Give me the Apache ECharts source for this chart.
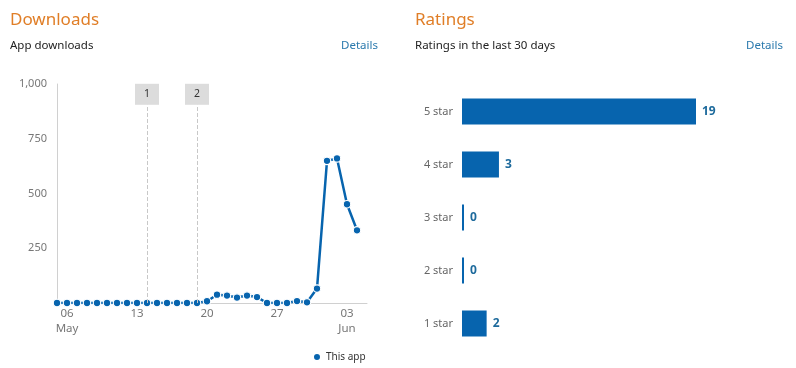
<!DOCTYPE html>
<html>
<head>
<meta charset="utf-8">
<script src="https://cdn.jsdelivr.net/npm/echarts@6/dist/echarts.min.js"></script>
<style>
html,body{margin:0;padding:0;background:#fff;}
#c{width:796px;height:368px;}
</style>
</head>
<body>
<div id="c"></div>
<script>
// Downloads (daily)
var days = ['May 5','May 6','May 7','May 8','May 9','May 10','May 11','May 12','May 13','May 14','May 15','May 16','May 17','May 18','May 19','May 20','May 21','May 22','May 23','May 24','May 25','May 26','May 27','May 28','May 29','May 30','May 31','Jun 1','Jun 2','Jun 3','Jun 4','Jun 5'];
var downloads = [0,0,0,0,0,0,0,0,0,0,0,0,0,0,0,8,38,34,25,34,27,0,0,0,9,3,66,649,660,451,332,null];
var tickDays = ['May 6','May 13','May 20','May 27','Jun 3'];
var tickLabels = ['06\nMay','13','20','27','03\nJun'];
var eventDates = ['May 14','May 19'];
var eventLabels = ['1','2'];
var yTicks = [0,250,500,750,1000];

// Ratings
var ratingCats = ['5 star','4 star','3 star','2 star','1 star'];
var ratingVals = [19,3,0,0,2];

var FONT = '"Noto Sans", "Open Sans", sans-serif';
var BLUE = '#0764ae';
var ORANGE = '#e07e27';
var LINK = '#2a79ad';

function t(text, left, top, size, color){
  return {text:text, left:left, top:top, padding:0,
    textStyle:{fontFamily:FONT, fontSize:size, fontWeight:'normal', color:color}};
}

var chart = echarts.init(document.getElementById('c'), null, {renderer:'canvas'});
chart.setOption({
  animation: false,
  textStyle: {fontFamily: FONT},
  title: [
    t('Downloads', 10, 12, 17, ORANGE),
    t('App downloads', 10, 40, 11.5, '#222'),
    t('Details', 341, 40, 11.5, LINK),
    t('Ratings', 415, 12, 17, ORANGE),
    t('Ratings in the last 30 days', 415, 40, 11.5, '#222'),
    t('Details', 746, 40, 11.5, LINK)
  ],
  legend: {
    data:['This app'], left:307, top:347, icon:'circle', itemWidth:8, itemHeight:8, itemGap:6,
    textStyle:{fontFamily:FONT, fontSize:10, color:'#333'}
  },
  grid: [
    {left:57, top:84, width:310, height:219, containLabel:false},
    {left:462, top:85, width:234, height:265, containLabel:false}
  ],
  xAxis: [
    {
      gridIndex:0, type:'category', data:days, boundaryGap:false,
      axisLine:{lineStyle:{color:'#d0d0d0'}}, axisTick:{show:false},
      axisLabel:{
        color:'#777', fontSize:11.5, lineHeight:15, margin:3,
        interval:function(i, v){ return tickDays.indexOf(v) >= 0; },
        formatter:function(v){ var k = tickDays.indexOf(v); return k >= 0 ? tickLabels[k] : ''; }
      },
      splitLine:{show:false}
    },
    {gridIndex:1, type:'value', min:0, max:19, show:false}
  ],
  yAxis: [
    {
      gridIndex:0, type:'value', min:yTicks[0], max:yTicks[yTicks.length-1], interval:250,
      axisLine:{show:true, lineStyle:{color:'#d0d0d0'}}, axisTick:{show:false}, splitLine:{show:false},
      axisLabel:{color:'#777', fontSize:11, margin:10, formatter:function(v){ return v === 0 ? '' : v.toLocaleString('en-US'); }}
    },
    {
      gridIndex:1, type:'category', data:ratingCats, inverse:true,
      axisLine:{show:false}, axisTick:{show:false},
      axisLabel:{color:'#666', fontSize:11, margin:9}
    }
  ],
  series: [
    {
      name:'This app', type:'line', xAxisIndex:0, yAxisIndex:0, data:downloads,
      symbol:'circle', symbolSize:7.5, showAllSymbol:true,
      lineStyle:{color:BLUE, width:2.5},
      itemStyle:{color:BLUE, borderColor:'#fff', borderWidth:1.2},
      markLine:{
        silent:true, symbol:['none','none'],
        lineStyle:{color:'#c8c8c8', type:'dashed', width:1},
        label:{show:true, position:'end', distance:0, formatter:'{b}', backgroundColor:'#dcdcdc', padding:[5,9,5,9], color:'#333', fontSize:10.5, fontFamily:FONT},
        data: eventDates.map(function(d, i){ return [{xAxis:d, yAxis:0, name:eventLabels[i]}, {xAxis:d, yAxis:905}]; })
      }
    },
    {
      name:'Ratings', type:'bar', xAxisIndex:1, yAxisIndex:1, data:ratingVals,
      barWidth:26, barMinHeight:2,
      itemStyle:{color:BLUE},
      label:{show:true, position:'right', distance:6, fontWeight:'bold', fontSize:12, color:'#1d6a9c', fontFamily:FONT}
    }
  ]
});
</script>
</body>
</html>
